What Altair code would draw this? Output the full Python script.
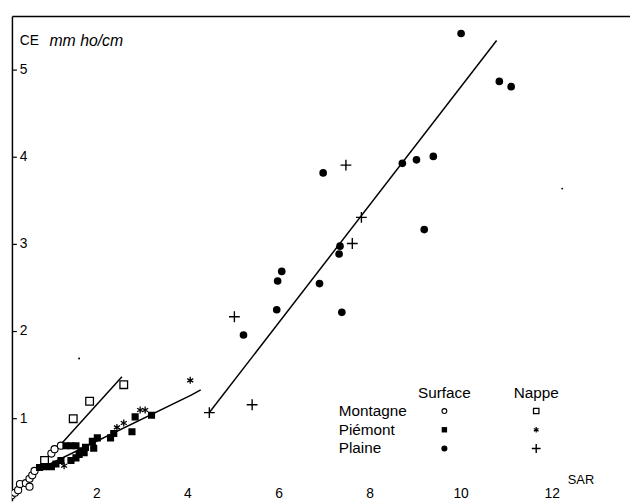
import altair as alt
import pandas as pd

# ---- data (SAR, CE in mmho/cm) ----
mont_surf_sar = [0.13, 0.20, 0.27, 0.31, 0.44, 0.52, 0.52, 0.58, 0.63, 1.00, 1.07, 1.21]
mont_surf_ce = [0.12, 0.15, 0.18, 0.25, 0.26, 0.22, 0.31, 0.35, 0.40, 0.60, 0.65, 0.69]

mont_nap_sar = [0.85, 1.48, 1.84, 2.59]
mont_nap_ce = [0.52, 1.00, 1.20, 1.39]

piem_surf_sar = [0.74, 0.85, 1.00, 1.10, 1.21, 1.32, 1.43, 1.54, 1.43, 1.54, 1.61,
                 1.65, 1.72, 1.75, 1.90, 1.93, 2.01, 2.30, 2.37, 2.77, 2.84, 3.20]
piem_surf_ce = [0.44, 0.45, 0.45, 0.48, 0.52, 0.69, 0.69, 0.69, 0.52, 0.55, 0.59,
                0.63, 0.61, 0.67, 0.74, 0.66, 0.78, 0.78, 0.83, 0.85, 1.02, 1.04]

piem_nap_sar = [1.28, 2.44, 2.59, 2.95, 3.06, 4.05]
piem_nap_ce = [0.46, 0.90, 0.95, 1.10, 1.10, 1.44]

plaine_surf_sar = [10.00, 10.84, 11.10, 8.71, 9.02, 9.39, 6.97, 7.34, 7.32, 9.19,
                   6.06, 5.97, 6.89, 5.95, 7.38, 5.22]
plaine_surf_ce = [5.42, 4.87, 4.81, 3.93, 3.97, 4.01, 3.82, 2.98, 2.89, 3.17,
                  2.69, 2.58, 2.55, 2.25, 2.22, 1.96]

plaine_nap_sar = [7.47, 7.81, 7.61, 5.02, 5.41, 4.47]
plaine_nap_ce = [3.91, 3.31, 3.01, 2.17, 1.16, 1.07]

# fitted lines (end points / kinks)
line_mont_sar = [1.18, 2.55]
line_mont_ce = [0.69, 1.48]
line_piem_sar = [0.81, 4.07, 4.28]
line_piem_ce = [0.44, 1.27, 1.33]
line_plaine_sar = [4.47, 10.78]
line_plaine_ce = [1.07, 5.34]

# specks in the scan
speck_sar = [1.61, 12.22]
speck_ce = [1.69, 3.64]

x_ticks = [2, 4, 6, 8, 10, 12]
x_tick_labels = ["2", "4", "6", "8", "10", "12"]
y_ticks = [1, 2, 3, 4, 5]
y_tick_labels = ["1", "2", "3", "4", "5"]

legend_rows = ["Montagne", "Piémont", "Plaine"]
legend_cols = ["Surface", "Nappe"]

FONT = "Liberation Sans"
W, H = 626, 491

xscale = alt.Scale(domain=[0.134, 13.71], nice=False, zero=False)
yscale = alt.Scale(domain=[0.057, 5.62], nice=False, zero=False)
xaxis = alt.Axis(orient="top", domain=True, domainColor="black", domainWidth=1.5,
                 ticks=False, labels=False, grid=False, title=None)
yaxis = alt.Axis(orient="left", domain=True, domainColor="black", domainWidth=1.5,
                 ticks=False, labels=False, grid=False, title=None)
X = alt.X("SAR:Q", scale=xscale, axis=xaxis)
Y = alt.Y("CE:Q", scale=yscale, axis=yaxis)

PLUS = "M-1,0L1,0M0,-1L0,1"
STAR = "M0,-1L0,1M-0.87,-0.5L0.87,0.5M-0.87,0.5L0.87,-0.5"


def df(sar, ce):
    return pd.DataFrame({"SAR": sar, "CE": ce})


def pts(sar, ce, **mk):
    return alt.Chart(df(sar, ce)).mark_point(opacity=1, color="black", clip=True, **mk).encode(x=X, y=Y)


def line(sar, ce):
    return alt.Chart(df(sar, ce)).mark_line(color="black", strokeWidth=1.5).encode(x=X, y=Y)


layers = [
    line(line_mont_sar, line_mont_ce),
    line(line_piem_sar, line_piem_ce),
    line(line_plaine_sar, line_plaine_ce),
    pts(mont_surf_sar, mont_surf_ce, shape="circle", filled=False, size=52, strokeWidth=1.1, fill="white"),
    pts(mont_nap_sar, mont_nap_ce, shape="square", filled=False, size=60, strokeWidth=1.3, fill="white"),
    pts(piem_surf_sar, piem_surf_ce, shape="square", filled=True, size=52),
    pts(piem_nap_sar, piem_nap_ce, shape=STAR, filled=False, size=50, strokeWidth=1.3),
    pts(plaine_surf_sar, plaine_surf_ce, shape="circle", filled=True, size=60),
    pts(plaine_nap_sar, plaine_nap_ce, shape=PLUS, filled=False, size=120, strokeWidth=1.4),
    pts(speck_sar, speck_ce, shape="circle", filled=True, size=4),
]

# x tick labels (inside plot, at the bottom)
layers.append(
    alt.Chart(pd.DataFrame({"SAR": x_ticks, "lab": x_tick_labels}))
    .mark_text(font=FONT, fontSize=14, baseline="middle", align="center", color="black")
    .encode(x=X, y=alt.value(484), text="lab:N")
)
# y tick labels and inward ticks
ydf = pd.DataFrame({"CE": y_ticks, "lab": y_tick_labels})
layers.append(
    alt.Chart(ydf).mark_text(font=FONT, fontSize=14, baseline="middle", align="left", color="black")
    .encode(y=Y, x=alt.value(8), text="lab:N")
)
layers.append(
    alt.Chart(ydf).mark_rule(color="black", strokeWidth=1.2)
    .encode(y=Y, x=alt.value(0), x2=alt.value(5))
)

one = pd.DataFrame({"t": [""]})


def txt(s, x, y, **mk):
    return alt.Chart(pd.DataFrame({"t": [s]})).mark_text(
        font=FONT, color="black", baseline="middle", **mk).encode(
        x=alt.value(x), y=alt.value(y), text="t:N")


def sym(x, y, **mk):
    return alt.Chart(one).mark_point(opacity=1, color="black", **mk).encode(
        x=alt.value(x), y=alt.value(y))


# axis titles
layers.append(txt("CE", 8, 25, fontSize=14, align="left"))
layers.append(txt("mm ho/cm", 38, 25, fontSize=16, align="left", fontStyle="italic"))
layers.append(txt("SAR", 563, 470, fontSize=13, align="left"))

# legend
col_x = [438, 531]
row_y = [400, 419, 438]
layers.append(txt(legend_cols[0], col_x[0], 382, fontSize=15.5, align="center"))
layers.append(txt(legend_cols[1], col_x[1], 382, fontSize=15.5, align="center"))
for lab, yy in zip(legend_rows, row_y):
    layers.append(txt(lab, 331, yy, fontSize=15.5, align="left"))
layers += [
    sym(col_x[0], row_y[0], shape="circle", filled=False, size=24, strokeWidth=1.1),
    sym(col_x[1], row_y[0], shape="square", filled=False, size=30, strokeWidth=1.3),
    sym(col_x[0], row_y[1], shape="square", filled=True, size=30),
    sym(col_x[1], row_y[1], shape=STAR, filled=False, size=30, strokeWidth=1.2),
    sym(col_x[0], row_y[2], shape="circle", filled=True, size=38),
    sym(col_x[1], row_y[2], shape=PLUS, filled=False, size=80, strokeWidth=1.4),
]

chart = (
    alt.layer(*layers)
    .properties(width=W, height=H, autosize=alt.AutoSizeParams(type="none"),
                padding={"left": 4, "top": 5, "right": 0, "bottom": 0},
                background="white")
    .configure_view(stroke=None)
)

chart.save("out.html", embed_options={"renderer": "svg", "actions": False})
